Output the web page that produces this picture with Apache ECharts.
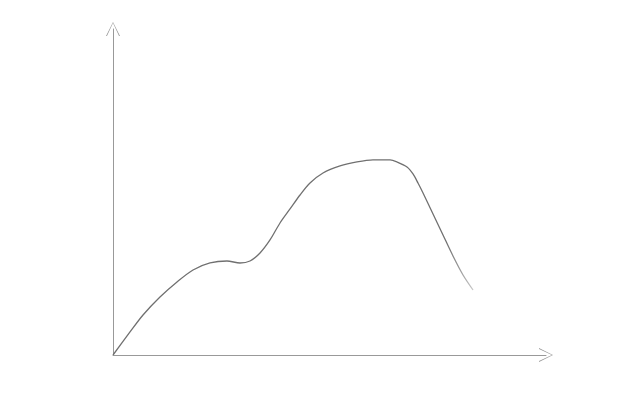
<!DOCTYPE html>
<html>
<head>
<meta charset="utf-8">
<script src="https://cdn.jsdelivr.net/npm/echarts@6/dist/echarts.min.js"></script>
<style>html,body{margin:0;padding:0;background:#fff;}#c{width:640px;height:400px;}</style>
</head>
<body>
<div id="c"></div>
<script>
var xValues = [0, 3.85, 6.79, 10.63, 14.48, 18.10, 21.95, 25.79, 28.73, 30.99, 33.26, 35.52, 37.78, 40.05, 42.31, 44.57, 47.51, 51.36, 55.20, 58.82, 62.67, 64.25, 66.52, 67.87, 69.00, 70.14, 72.40, 74.66, 76.92, 79.19, 81.45];
var yValues = [0, 6.87, 11.94, 17.31, 21.79, 25.37, 27.46, 28.06, 27.46, 28.06, 30.45, 34.33, 39.40, 43.58, 47.76, 51.34, 54.33, 56.42, 57.61, 58.21, 58.21, 57.61, 56.12, 54.03, 51.34, 48.36, 42.09, 35.82, 29.55, 23.88, 19.40];

var chart = echarts.init(document.getElementById('c'));
var arrow = 'path://M50,0 L100,100 L93,100 L50,8 L7,100 L0,100 Z';
var axisLine = {
  show: true,
  symbol: ['none', arrow],
  symbolSize: [14, 18],
  lineStyle: { color: '#999', width: 1 }
};
chart.setOption({
  animation: false,
  backgroundColor: '#fff',
  grid: { left: 113, right: 94, top: 29, bottom: 45 },
  xAxis: {
    type: 'value', min: 0, max: 97.96,
    axisLine: axisLine,
    axisTick: { show: false }, axisLabel: { show: false }, splitLine: { show: false }
  },
  yAxis: {
    type: 'value', min: 0, max: 97.3,
    axisLine: axisLine,
    axisTick: { show: false }, axisLabel: { show: false }, splitLine: { show: false }
  },
  series: [{
    type: 'line',
    smooth: 0.3,
    symbol: 'none',
    data: xValues.map(function (x, i) { return [x, yValues[i]]; }),
    lineStyle: {
      width: 1.3,
      color: {
        type: 'linear', x: 0, y: 0, x2: 1, y2: 0,
        colorStops: [
          { offset: 0, color: '#707070' },
          { offset: 0.92, color: '#707070' },
          { offset: 1, color: '#cfcfcf' }
        ]
      }
    }
  }]
});
</script>
</body>
</html>
